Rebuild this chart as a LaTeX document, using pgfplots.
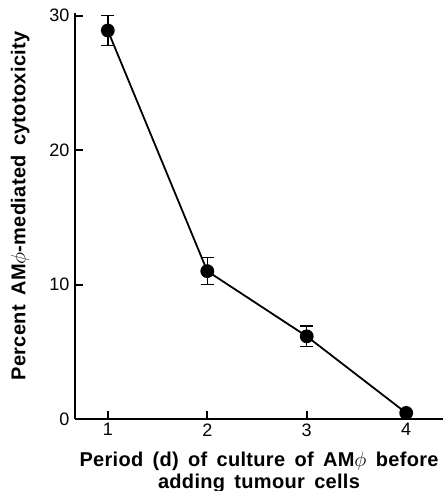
\documentclass[border=0pt]{standalone}
\usepackage{pgfplots}
\pgfplotsset{compat=1.18}
\usepackage{fontspec}
\setmainfont{Liberation Sans}
\newfontfamily\labfont[LetterSpace=1.5,WordSpace=1.6]{Liberation Sans Bold}
\begin{document}
\begin{tikzpicture}[x=1pt,y=1pt]
\path[use as bounding box] (-75,-72) rectangle (368,419);
\begin{axis}[
  at={(0,0)}, anchor=south west,
  scale only axis, width=368pt, height=406pt,
  xmin=0.67, xmax=4.37, ymin=0, ymax=30.2,
  axis lines*=left,
  axis line style={line width=2pt},
  xtick={1,2,3,4}, ytick={0,10,20,30},
  tick align=inside, major tick length=8pt,
  tick style={line width=2pt, black},
  /pgf/number format/assume math mode=true,
  tick label style={font=\fontsize{18}{21}\selectfont},
  xticklabel style={yshift=-1pt},
  yticklabel style={xshift=-2pt},
  xlabel={Period (d) of culture of AM$\phi$ before\\adding tumour cells},
  xlabel style={font=\labfont\fontsize{20}{22}\selectfont, align=center,
    at={(axis description cs:0.5,-0.072)}, anchor=north},
  ylabel={Percent AM$\phi$-mediated cytotoxicity},
  ylabel style={font=\labfont\fontsize{20}{22}\selectfont,
    at={(axis description cs:-0.149,0.525)}, anchor=center, rotate=0},
]
\addplot[black, line width=1.8pt, mark=*, mark size=6pt,
  error bars/.cd, y dir=both, y explicit,
  error bar style={line width=1.5pt},
  error mark options={rotate=90, mark size=6.5pt, line width=1.5pt}]
  coordinates {
  (1,28.9) +- (0,1.1)
  (2,11.0) +- (0,1.0)
  (3,6.15) +- (0,0.75)
  (4,0.45) +- (0,0)
};
\end{axis}
\end{tikzpicture}
\end{document}
